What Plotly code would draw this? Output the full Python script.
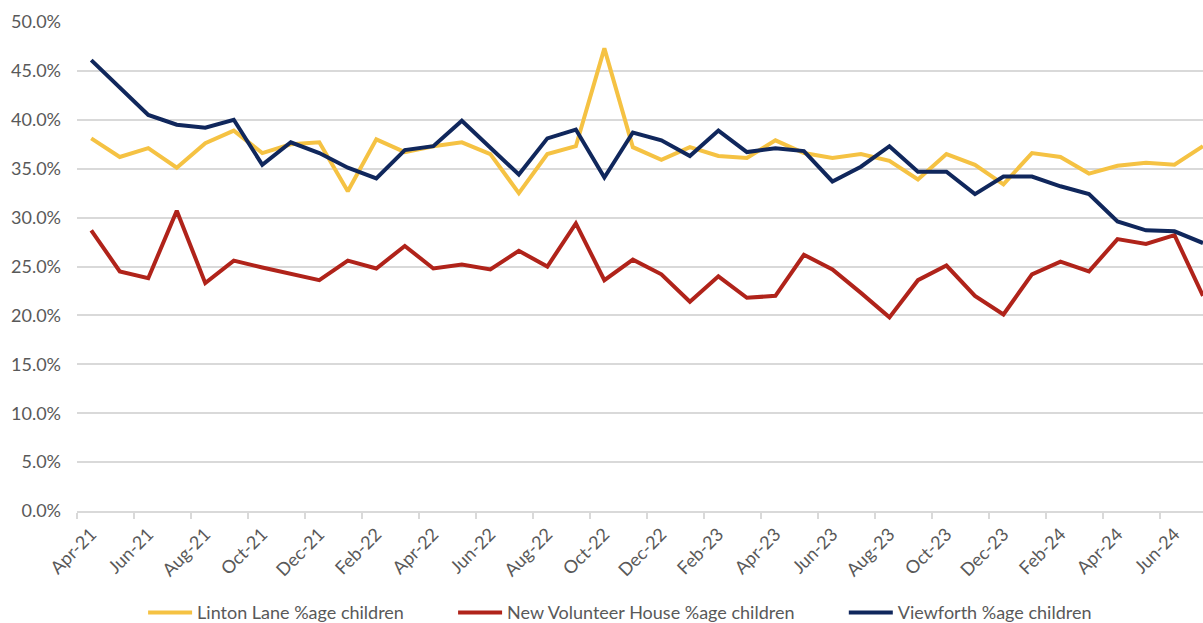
import plotly.graph_objects as go

months = ["Apr-21", "May-21", "Jun-21", "Jul-21", "Aug-21", "Sep-21", "Oct-21", "Nov-21", "Dec-21", "Jan-22",
          "Feb-22", "Mar-22", "Apr-22", "May-22", "Jun-22", "Jul-22", "Aug-22", "Sep-22", "Oct-22", "Nov-22",
          "Dec-22", "Jan-23", "Feb-23", "Mar-23", "Apr-23", "May-23", "Jun-23", "Jul-23", "Aug-23", "Sep-23",
          "Oct-23", "Nov-23", "Dec-23", "Jan-24", "Feb-24", "Mar-24", "Apr-24", "May-24", "Jun-24", "Jul-24"]

linton_lane = [38.1, 36.2, 37.1, 35.1, 37.6, 38.9, 36.6, 37.5, 37.7, 32.7,
               38.0, 36.7, 37.3, 37.7, 36.5, 32.5, 36.5, 37.3, 47.3, 37.2,
               35.9, 37.2, 36.3, 36.1, 37.9, 36.6, 36.1, 36.5, 35.8, 33.9,
               36.5, 35.4, 33.4, 36.6, 36.2, 34.5, 35.3, 35.6, 35.4, 37.3]

new_volunteer_house = [28.7, 24.5, 23.8, 30.7, 23.3, 25.6, 24.9, 24.3, 23.6, 25.6,
                       24.8, 27.1, 24.8, 25.2, 24.7, 26.6, 25.0, 29.4, 23.6, 25.7,
                       24.2, 21.4, 24.0, 21.8, 22.0, 26.2, 24.7, 22.3, 19.8, 23.6,
                       25.1, 22.0, 20.1, 24.2, 25.5, 24.5, 27.8, 27.3, 28.2, 22.0]

viewforth = [46.1, 43.3, 40.5, 39.5, 39.2, 40.0, 35.4, 37.7, 36.6, 35.1,
             34.0, 36.9, 37.3, 39.9, 37.2, 34.4, 38.1, 39.0, 34.1, 38.7,
             37.9, 36.3, 38.9, 36.7, 37.1, 36.8, 33.7, 35.2, 37.3, 34.7,
             34.7, 32.4, 34.2, 34.2, 33.2, 32.4, 29.6, 28.7, 28.6, 27.4]

series = [
    ("Linton Lane %age children", linton_lane, "#F5C243", "legend", 0.0587),
    ("New Volunteer House %age children", new_volunteer_house, "#B0231A", "legend2", 0.334),
    ("Viewforth %age children", viewforth, "#10275C", "legend3", 0.681),
]

x_idx = list(range(len(months)))
font_family = "Lato, 'Liberation Sans', Arial, sans-serif"
text_color = "#595959"
grid_color = "#D9D9D9"

fig = go.Figure()
legend_layouts = {}
for name, vals, color, leg, lx in series:
    fig.add_trace(go.Scatter(
        x=x_idx, y=vals, mode="lines", name=name, legend=leg,
        line=dict(color=color, width=4),
        hovertemplate="%{text}: %{y:.1f}%<extra></extra>",
        text=months,
    ))
    legend_layouts[leg] = dict(
        orientation="h", x=lx, xanchor="left", y=-0.208, yanchor="middle",
        font=dict(size=18, color=text_color, family=font_family), itemwidth=44,
        bgcolor="rgba(0,0,0,0)",
    )

fig.update_layout(
    width=1203, height=623,
    margin=dict(l=77, r=0, t=22, b=112, autoexpand=False),
    paper_bgcolor="white", plot_bgcolor="white",
    font=dict(family=font_family, size=18, color=text_color),
    showlegend=True,
    xaxis=dict(
        range=[-0.5, 39.0],
        tickmode="array",
        tickvals=x_idx[::2], ticktext=months[::2],
        tickangle=-45, ticks="", showgrid=False,
        showline=True, linecolor=grid_color, linewidth=1.5,
        zeroline=False, ticklabelstandoff=4,
        tickfont=dict(size=18, color=text_color),
        minor=dict(tickmode="array", tickvals=[i - 0.5 for i in x_idx[::2]],
                   ticks="outside", ticklen=6, tickcolor=grid_color, tickwidth=1.5,
                   showgrid=False),
    ),
    yaxis=dict(
        range=[0, 50], dtick=5, tick0=0,
        tickformat=".1f", ticksuffix="%",
        showgrid=True, gridcolor=grid_color, gridwidth=1.5,
        zeroline=False, ticks="", ticklabelstandoff=15,
        tickfont=dict(size=18, color=text_color),
    ),
    **legend_layouts,
)

fig.write_html(
    "out.html",
    config={"displayModeBar": False},
    post_script="document.body.style.margin='0';document.body.style.overflow='hidden';",
)
